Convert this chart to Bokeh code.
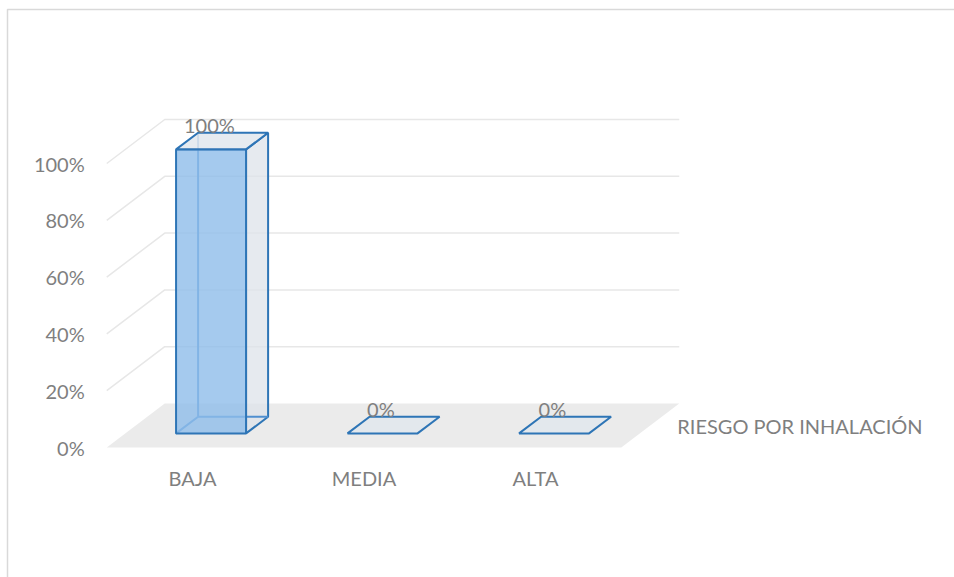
from bokeh.plotting import figure
from bokeh.models import ColumnDataSource, Range1d
from bokeh.core.properties import value
from bokeh.embed import file_html
from bokeh.resources import INLINE

# ---------------- data ----------------
categories = ["BAJA", "MEDIA", "ALTA"]
percentages = [100, 0, 0]
tick_values = [0, 20, 40, 60, 80, 100]
tick_labels = ["0%", "20%", "40%", "60%", "80%", "100%"]
series_name = "RIESGO POR INHALACIÓN"

# ---------------- geometry / style ----------------
W, H = 954, 577
X0_PX, CAT_PX = 192.0, 171.5      # pixel of first category, pixels per category
Y0_PX, PCT_PX = 447.0, 2.84       # pixel row of 0 %, pixels per percent
DX = 58.0 / CAT_PX                # full depth shift (x, data units)
DY = 44.0 / PCT_PX                # full depth shift (y, data units)
D0, D1 = 0.32, 0.70               # bar depth range (fraction of floor depth)
BW = 35.0 / CAT_PX                # bar half width
FONT = "Lato"
FS = "20px"
TXT = "#7f7f7f"

x_start = -X0_PX / CAT_PX
x_end = (W - X0_PX) / CAT_PX
y_end = Y0_PX / PCT_PX
y_start = (Y0_PX - H) / PCT_PX

def px_x(px):
    return x_start + px / CAT_PX

def px_y(py):
    return y_end - py / PCT_PX

p = figure(width=W, height=H, x_range=Range1d(x_start, x_end), y_range=Range1d(y_start, y_end),
           toolbar_location=None, output_backend="svg", min_border=0)
p.axis.visible = False
p.grid.visible = False
p.outline_line_color = None
p.background_fill_color = "white"
p.border_fill_color = "white"

n = len(categories)
left_c, right_c = -0.5, n - 0.5

# chart border (top and left only)
p.line([px_x(7), px_x(7), x_end], [y_start, px_y(9), px_y(9)], line_color="#d9d9d9", line_width=1.5)

# floor
p.patch([left_c, left_c + DX, right_c + DX, right_c], [0, DY, DY, 0],
        fill_color="#ebebeb", line_color=None)

# back / side gridlines
gx, gy = [], []
for v in tick_values[1:]:
    gx.append([left_c, left_c + DX, right_c + DX])
    gy.append([v, v + DY, v + DY])
p.multi_line(gx, gy, line_color="#e7e7e7", line_width=1.5)

# bars
side_x, side_y, top_x, top_y = [], [], [], []
hid_x, hid_y = [], []
front = dict(left=[], right=[], bottom=[], top=[])
for i, v in enumerate(percentages):
    c = float(i)
    l0, r0 = c - BW + DX * D0, c + BW + DX * D0
    l1, r1 = c - BW + DX * D1, c + BW + DX * D1
    b0, b1 = DY * D0, DY * D1
    top_x.append([l0, l1, r1, r0])
    top_y.append([v + b0, v + b1, v + b1, v + b0])
    if v > 0:
        side_x.append([r0, r1, r1, r0])
        side_y.append([b0, b1, v + b1, v + b0])
        hid_x += [[l1, l1], [l1, r1], [l0, l1]]
        hid_y += [[b1, v + b1], [b1, b1], [b0, b1]]
        front["left"].append(l0)
        front["right"].append(r0)
        front["bottom"].append(b0)
        front["top"].append(v + b0)

p.patches(side_x, side_y, fill_color="#dde3ea", fill_alpha=0.75, line_color="#2e75b6", line_width=2)
p.multi_line(hid_x, hid_y, line_color="#4f8fd0", line_width=2)
p.patches(top_x, top_y, fill_color="#e2e7ed", fill_alpha=0.85, line_color="#2e75b6", line_width=2)
p.quad(source=ColumnDataSource(front), left="left", right="right", bottom="bottom", top="top",
       fill_color="#8fbdea", fill_alpha=0.8, line_color="#2e75b6", line_width=2)

# data labels
lab = ColumnDataSource(dict(
    x=[i + DX * D0 - 0.01 for i in range(n)],
    y=[v + DY * D1 - 4.0 / PCT_PX for v in percentages],
    t=[f"{v}%" for v in percentages]))
p.text(x="x", y="y", text="t", source=lab, text_font=value(FONT), text_font_size=FS,
       text_color=TXT, text_align="center", text_baseline="bottom")

# value axis labels
ticks = ColumnDataSource(dict(x=[left_c - 22.0 / CAT_PX] * len(tick_values), y=tick_values, t=tick_labels))
p.text(x="x", y="y", text="t", source=ticks, text_font=value(FONT), text_font_size=FS,
       text_color=TXT, text_align="right", text_baseline="middle")

# category labels
cats = ColumnDataSource(dict(x=list(range(n)), y=[-30.0 / PCT_PX] * n, t=categories))
p.text(x="x", y="y", text="t", source=cats, text_font=value(FONT), text_font_size=FS,
       text_color=TXT, text_align="center", text_baseline="middle")

# series (depth) axis label
p.text(x=[right_c + DX * 0.5 + 27.0 / CAT_PX], y=[DY * 0.5], text=[series_name],
       text_font=value(FONT), text_font_size=FS, text_color=TXT,
       text_align="left", text_baseline="middle")

open("out.html", "w").write(file_html(p, INLINE))
